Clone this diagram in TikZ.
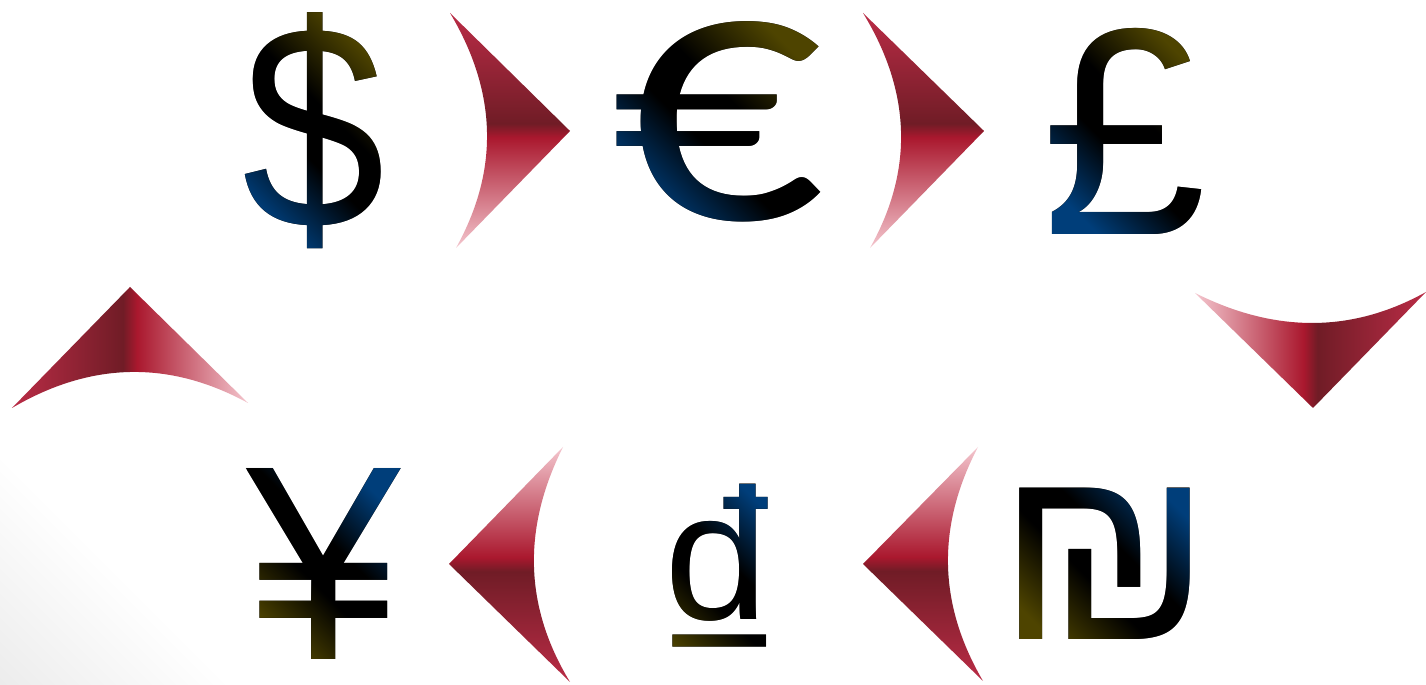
\documentclass[tikz,border=0pt]{standalone}
\usepackage{fontspec}
\newfontfamily\glyphfont{Liberation Sans}
\newfontfamily\usdfam{Liberation Sans}[FakeStretch=0.88]
\newfontfamily\eurfam{Carlito}[FakeStretch=1.13]
\usetikzlibrary{fadings}

% Farben
\definecolor{arrowtop}{RGB}{186,44,70}
\definecolor{arrowdark}{RGB}{112,28,38}
\definecolor{arrowbright}{RGB}{170,24,46}
\definecolor{arrowpale}{RGB}{244,198,206}
\definecolor{glyphblue}{RGB}{0,62,122}
\definecolor{glypholive}{RGB}{78,68,0}
\definecolor{cornergray}{RGB}{236,236,236}

% Verläufe
\pgfdeclareverticalshading{arrowshade}{100bp}{color(0bp)=(arrowpale); color(25bp)=(arrowpale);
  color(48.5bp)=(arrowbright); color(51.5bp)=(arrowdark); color(75bp)=(arrowtop); color(100bp)=(arrowtop)}
\pgfdeclareverticalshading{glyphshade}{100bp}{color(0bp)=(glyphblue); color(25bp)=(glyphblue);
  color(44bp)=(black); color(56bp)=(black); color(75bp)=(glypholive); color(100bp)=(glypholive)}
\pgfdeclareverticalshading{cornershade}{100bp}{color(0bp)=(cornergray); color(14.6bp)=(cornergray);
  color(48bp)=(white); color(100bp)=(white)}

% Schriften der Zeichen
\newcommand\usdfont{\usdfam\fontsize{83pt}{83pt}\selectfont}
\newcommand\eurfont{\eurfam\fontsize{106pt}{106pt}\selectfont}
\newcommand\gbpfont{\glyphfont\fontsize{84pt}{84pt}\selectfont}
\newcommand\jpyfont{\glyphfont\fontsize{79pt}{79pt}\selectfont}
\newcommand\vndfont{\glyphfont\fontsize{76pt}{76pt}\selectfont}
\newcommand\ilsfont{\glyphfont\fontsize{72pt}{72pt}\selectfont}

% Masken fuer die Waehrungszeichen
\pgfdeclarefading{usdfade}{\color{white}\usdfont\$}
\pgfdeclarefading{eurfade}{\color{white}\eurfont €}
\pgfdeclarefading{gbpfade}{\color{white}\gbpfont £}
\pgfdeclarefading{jpyfade}{\color{white}\jpyfont ¥}
\pgfdeclarefading{vndfade}{\color{white}\vndfont ₫}
\pgfdeclarefading{ilsfade}{\color{white}\ilsfont ₪}

\tikzset{
  glyph/.style={inner sep=0pt, outer sep=0pt, text=black},
  glyphfill/.style={shading=glyphshade, shading angle=#1, fit fading=false},
  arrowfill/.style={shading=arrowshade, shading angle=#1},
}

\begin{document}
\begin{tikzpicture}
    \useasboundingbox (0,0) rectangle (14.26,6.85);
    \fill[white] (0,0) rectangle (14.26,6.85);
    % leichter Schatten unten links
    \shade[shading=cornershade, shading angle=-45] (0,0) rectangle (2.45,2.45);

    % Obere Reihe
    \node[glyph, font=\usdfont] (usd) at (3.14,5.54) {\$};
    \node[glyph, font=\eurfont] (eur) at (7.17,5.635) {€};
    \node[glyph, font=\gbpfont] (gbp) at (11.25,5.54) {£};
    \shade[glyphfill=-45, path fading=usdfade, fading transform={shift={(usd.center)}}]
        (usd.south west) rectangle (usd.north east);
    \shade[glyphfill=-45, path fading=eurfade, fading transform={shift={(eur.center)}}]
        (eur.south west) rectangle (eur.north east);
    \shade[glyphfill=-45, path fading=gbpfade, fading transform={shift={(gbp.center)}}]
        (gbp.south west) rectangle (gbp.north east);

    % Untere Reihe
    \node[glyph, font=\jpyfont] (jpy) at (3.24,1.21) {¥};
    \node[glyph, font=\vndfont] (vnd) at (7.20,1.04) {₫};
    \node[glyph, font=\ilsfont] (ils) at (11.05,1.21) {₪};
    \shade[glyphfill=135, path fading=jpyfade, fading transform={shift={(jpy.center)}}]
        (jpy.south west) rectangle (jpy.north east);
    \shade[glyphfill=135, path fading=vndfade, fading transform={shift={(vnd.center)}}]
        (vnd.south west) rectangle (vnd.north east);
    \shade[glyphfill=135, path fading=ilsfade, fading transform={shift={(ils.center)}}]
        (ils.south west) rectangle (ils.north east);

    % Pfeile nach rechts
    \shade[arrowfill=0] (4.50,6.72) -- (5.70,5.54) -- (4.56,4.37)
        .. controls (4.993,5.147) and (4.973,5.93) .. (4.50,6.72) -- cycle;
    \shade[arrowfill=0] (8.63,6.72) -- (9.84,5.54) -- (8.70,4.37)
        .. controls (9.137,5.147) and (9.113,5.93) .. (8.63,6.72) -- cycle;

    % Pfeil nach unten (rechts)
    \shade[arrowfill=-90] (11.95,3.92) -- (13.13,2.77) -- (14.26,3.93)
        .. controls (13.523,3.52) and (12.753,3.517) .. (11.95,3.92) -- cycle;

    % Pfeile nach links
    \shade[arrowfill=180] (9.78,2.38) -- (8.63,1.21) -- (9.83,0.04)
        .. controls (9.38,0.807) and (9.363,1.587) .. (9.78,2.38) -- cycle;
    \shade[arrowfill=180] (5.63,2.38) -- (4.49,1.21) -- (5.70,0.03)
        .. controls (5.243,0.78) and (5.22,1.563) .. (5.63,2.38) -- cycle;

    % Pfeil nach oben (links)
    \shade[arrowfill=90] (2.48,2.82) -- (1.30,3.98) -- (0.12,2.77)
        .. controls (0.907,3.233) and (1.693,3.25) .. (2.48,2.82) -- cycle;
\end{tikzpicture}
\end{document}
